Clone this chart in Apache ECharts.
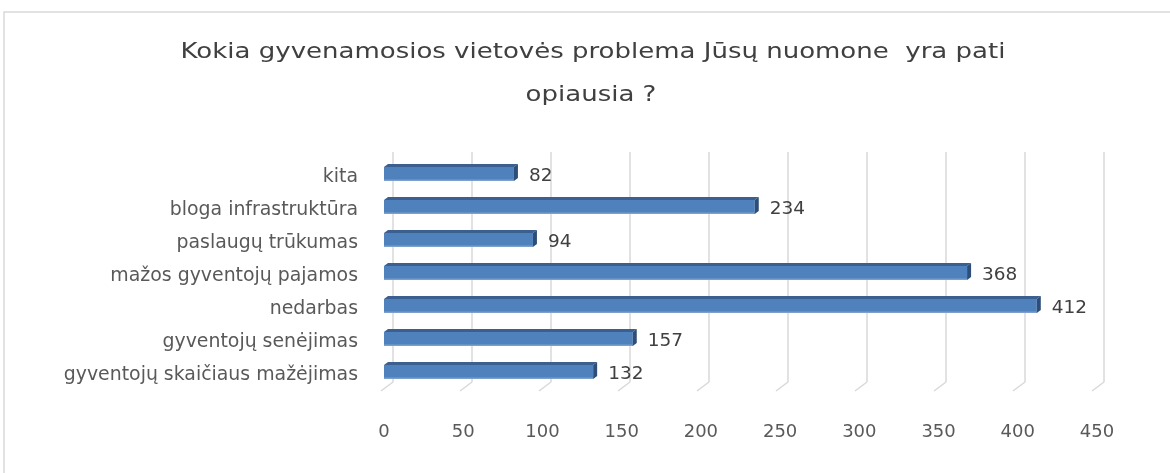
<!DOCTYPE html>
<html>
<head>
<meta charset="utf-8">
<script src="https://cdn.jsdelivr.net/npm/echarts@6/dist/echarts.min.js"></script>
<style>html,body{margin:0;padding:0;background:#fff;}#c{width:1170px;height:473px;}</style>
</head>
<body>
<div id="c"></div>
<script>
const titleLine1 = 'Kokia gyvenamosios vietovės problema Jūsų nuomone  yra pati';
const titleLine2 = 'opiausia ?';
const categories = ['gyventojų skaičiaus mažėjimas', 'gyventojų senėjimas', 'nedarbas', 'mažos gyventojų pajamos', 'paslaugų trūkumas', 'bloga infrastruktūra', 'kita'];
const values = [132, 157, 412, 368, 94, 234, 82];
const ticks = [0, 50, 100, 150, 200, 250, 300, 350, 400, 450];

const FONT = 'DejaVu Sans';
const chart = echarts.init(document.getElementById('c'), null, {renderer: 'canvas'});

function renderBar(params, api) {
  const v = api.value(0);
  const cat = api.value(1);
  const p0 = api.coord([0, cat]);
  const p1 = api.coord([v, cat]);
  const c = p0[1];
  const dx = 4, dy = 3;
  const top = c - 6, bot = c + 8;
  const x0 = p0[0], x1 = p1[0];
  return {
    type: 'group',
    children: [
      {type: 'rect', shape: {x: x0, y: top, width: x1 - x0, height: bot - top}, style: {fill: '#4F81BD'}},
      {type: 'rect', shape: {x: x0, y: bot - 1.5, width: x1 - x0, height: 1.5}, style: {fill: '#7D9FCB'}},
      {type: 'polygon', shape: {points: [[x0, top], [x1, top], [x1 + dx, top - dy], [x0 + dx, top - dy]]}, style: {fill: '#3B5F8E'}},
      {type: 'polygon', shape: {points: [[x1, top], [x1 + dx, top - dy], [x1 + dx, bot - dy], [x1, bot]]}, style: {fill: '#2D4E78'}},
      {type: 'text', style: {text: String(v), x: x1 + dx + 11, y: c + 3, textAlign: 'left', textVerticalAlign: 'middle', fontFamily: FONT, fontSize: 18.5, fill: '#404040'}}
    ]
  };
}

function renderStub(params, api) {
  const v = api.value(0);
  const p = api.coord([v, 0]);
  const y0 = params.coordSys.y + params.coordSys.height;
  return {type: 'line', shape: {x1: p[0], y1: y0, x2: p[0] - 12, y2: y0 + 9}, style: {stroke: '#D9D9D9', lineWidth: 1.5}};
}

chart.setOption({
  animation: false,
  backgroundColor: '#ffffff',
  graphic: [
    {type: 'rect', shape: {x: 4, y: 12, width: 1400, height: 700}, style: {fill: 'none', stroke: '#D9D9D9', lineWidth: 1.5}, silent: true, z: -10},
    {type: 'text', x: 593, y: 53, scaleX: 1.25, style: {text: titleLine1, textAlign: 'center', textVerticalAlign: 'middle', fontFamily: FONT, fontSize: 20.8, fill: '#404040'}},
    {type: 'text', x: 591, y: 96, scaleX: 1.25, style: {text: titleLine2, textAlign: 'center', textVerticalAlign: 'middle', fontFamily: FONT, fontSize: 20.8, fill: '#404040'}}
  ],
  grid: [
    {left: 384, width: 713, top: 156.5, height: 231},
    {left: 393, width: 711, top: 152, height: 230}
  ],
  xAxis: [
    {type: 'value', gridIndex: 0, min: 0, max: 450, interval: 50,
     splitLine: {show: false}, axisLine: {show: false}, axisTick: {show: false},
     axisLabel: {fontFamily: FONT, fontSize: 18, color: '#595959', margin: 36}},
    {type: 'value', gridIndex: 1, min: 0, max: 450, interval: 50,
     splitLine: {show: true, lineStyle: {color: '#D9D9D9', width: 1.5}}, axisLine: {show: false}, axisTick: {show: false},
     axisLabel: {show: false}}
  ],
  yAxis: [
    {type: 'category', gridIndex: 0, data: categories,
     axisLine: {show: false}, axisTick: {show: false},
     axisLabel: {fontFamily: FONT, fontSize: 18.9, color: '#595959', margin: 26, verticalAlign: 'top', lineHeight: 9}},
    {type: 'value', gridIndex: 1, min: 0, max: 1, show: false, splitLine: {show: false}}
  ],
  series: [
    {type: 'custom', xAxisIndex: 1, yAxisIndex: 1, renderItem: renderStub, data: ticks.map(t => [t, 0]), encode: {x: 0, y: 1}, z: 1, silent: true},
    {type: 'custom', xAxisIndex: 0, yAxisIndex: 0, renderItem: renderBar,
     data: values.map((v, i) => [v, categories[i]]), encode: {x: 0, y: 1}, z: 5, silent: true}
  ]
});
</script>
</body>
</html>
